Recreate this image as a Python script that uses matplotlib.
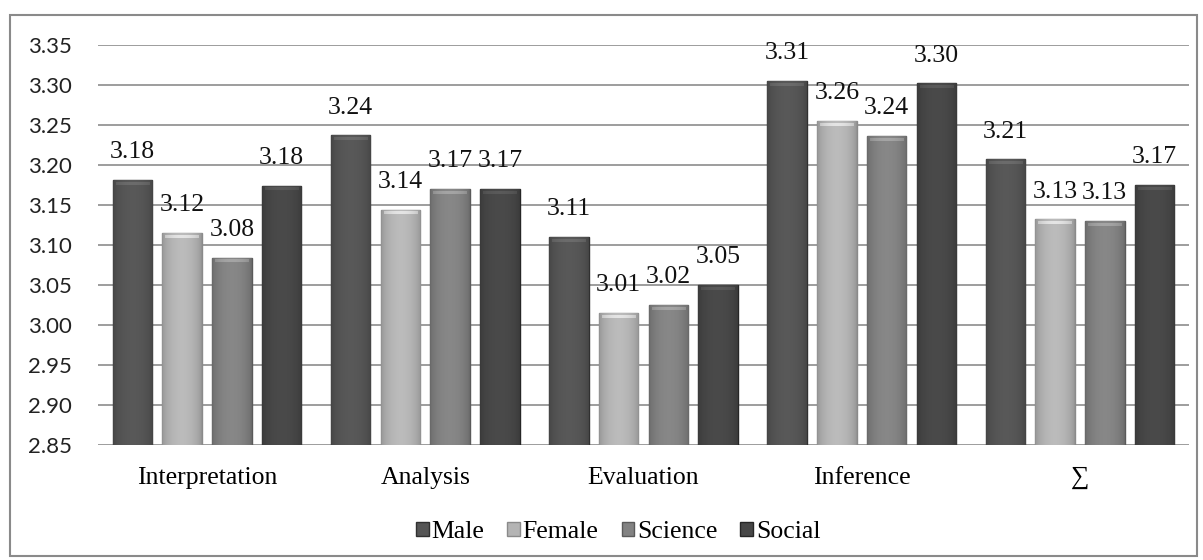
import matplotlib
matplotlib.use("Agg")
import matplotlib.pyplot as plt
import numpy as np
from matplotlib.patches import Rectangle
from matplotlib.colors import to_rgb

categories = ["Interpretation", "Analysis", "Evaluation", "Inference", "\u2211"]
series = ["Male", "Female", "Science", "Social"]
male = [3.181, 3.237, 3.110, 3.305, 3.207]
female = [3.115, 3.144, 3.015, 3.255, 3.132]
science = [3.084, 3.170, 3.025, 3.236, 3.130]
social = [3.174, 3.170, 3.050, 3.302, 3.175]
labels_male = ["3.18", "3.24", "3.11", "3.31", "3.21"]
labels_female = ["3.12", "3.14", "3.01", "3.26", "3.13"]
labels_science = ["3.08", "3.17", "3.02", "3.24", "3.13"]
labels_social = ["3.18", "3.17", "3.05", "3.30", "3.17"]
yticks = [2.85, 2.90, 2.95, 3.00, 3.05, 3.10, 3.15, 3.20, 3.25, 3.30, 3.35]

values = [male, female, science, social]
labels = [labels_male, labels_female, labels_science, labels_social]
colors = ["#555555", "#b4b4b4", "#828282", "#474747"]
edges = ["#303030", "#8a8a8a", "#5a5a5a", "#262626"]

serif = ["Liberation Serif", "DejaVu Serif"]

fig = plt.figure(figsize=(12.03, 5.6), dpi=100)
fig.patches.append(Rectangle((10 / 1203, 1 - 556 / 560), 1187 / 1203, 541 / 560,
                             transform=fig.transFigure, fill=False,
                             edgecolor="#8a8a8a", linewidth=1.5))
ax = fig.add_axes([98 / 1203, 1 - 445 / 560, 1091 / 1203, 400 / 560])

x = np.arange(len(categories))
step = 0.228
width = 0.181
ymin = yticks[0]
px_per_unit = 800

u = np.linspace(0, 1, 40)
prof = 0.82 + 0.22 * np.sin(np.pi * u) ** 0.6
for i, (vals, labs) in enumerate(zip(values, labels)):
    pos = x + (i - 1.5) * step
    bars = ax.bar(pos, np.array(vals) - ymin, width, bottom=ymin, color=colors[i],
                  edgecolor=edges[i], linewidth=1.0, label=series[i], zorder=3)
    base = np.array(to_rgb(colors[i]))
    for b, xp, v in zip(bars, pos, vals):
        h = max(int(round((v - ymin) * px_per_unit)), 10)
        img = np.ones((h, len(u), 3)) * base
        img = img * prof[None, :, None]
        img[2:5, 3:-3, :] = img[2:5, 3:-3, :] * 1.22
        img = np.clip(img, 0, 1)
        im = ax.imshow(img, extent=(xp - width / 2, xp + width / 2, ymin, v),
                       aspect="auto", zorder=3.5, interpolation="bilinear",
                       origin="upper")
        im.set_clip_path(b)
    for xp, v, t in zip(pos, vals, labs):
        ax.annotate(t, (xp, v), xytext=(0, 20), textcoords="offset points",
                    ha="center", va="center", fontsize=18.5, family=serif,
                    color="#111111", zorder=5)

ax.set_xlim(-0.5, 4.5)
ax.set_ylim(2.85, 3.35)
ax.set_yticks(yticks)
ax.set_yticklabels([f"{t:.2f}" for t in yticks], fontsize=16, family="Lato",
                   color="#222222")
ax.yaxis.grid(True, color="#8c8c8c", linewidth=1.2, zorder=0)
ax.set_axisbelow(True)
ax.set_xticks(x)
ax.set_xticklabels(categories, fontsize=18.5, family=serif)
ax.tick_params(axis="both", length=0)
ax.tick_params(axis="x", pad=16)
ax.tick_params(axis="y", pad=19)
for s in ax.spines.values():
    s.set_visible(False)

fig.legend(loc="center", bbox_to_anchor=(618 / 1203, 1 - 532 / 560), ncol=4,
           frameon=False, prop={"family": serif, "size": 18.5},
           handlelength=0.5, handleheight=0.5, handletextpad=0.1,
           columnspacing=0.9)

fig.savefig("out.png", dpi=100, facecolor="white")
